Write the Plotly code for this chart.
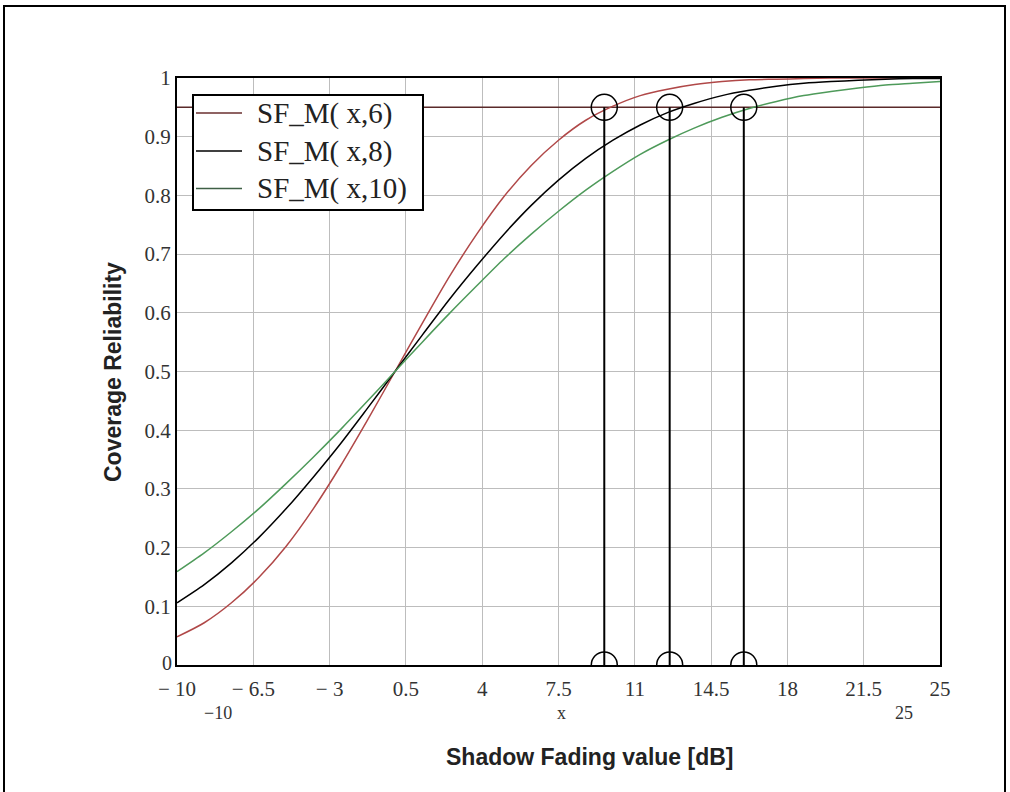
import plotly.graph_objects as go

# x positions (dB)
x_vals = [-10, -8.75, -7.5, -6.25, -5, -3.75, -2.5, -1.25, 0, 1.25, 2.5, 3.75, 5, 6.25, 7.5,
          8.75, 10, 11.25, 12.5, 13.75, 15, 16.25, 17.5, 18.75, 20, 21.25, 22.5, 23.75, 25]
# curve values
sf6 = [0.048, 0.072, 0.106, 0.149, 0.202, 0.266, 0.339, 0.418, 0.500, 0.582, 0.662, 0.734, 0.798,
       0.851, 0.894, 0.928, 0.952, 0.970, 0.981, 0.989, 0.994, 0.997, 0.998, 0.999, 1.000, 1.000,
       1.000, 1.000, 1.000]
sf8 = [0.106, 0.137, 0.174, 0.217, 0.266, 0.320, 0.377, 0.438, 0.500, 0.562, 0.623, 0.680, 0.734,
       0.783, 0.826, 0.863, 0.894, 0.920, 0.941, 0.957, 0.970, 0.979, 0.986, 0.991, 0.994, 0.996,
       0.998, 0.999, 0.999]
sf10 = [0.159, 0.191, 0.227, 0.266, 0.309, 0.354, 0.401, 0.450, 0.500, 0.550, 0.599, 0.646, 0.692,
        0.734, 0.773, 0.809, 0.841, 0.870, 0.894, 0.915, 0.933, 0.948, 0.960, 0.970, 0.977, 0.983,
        0.988, 0.991, 0.994]
series_names = ["SF_M( x,6)", "SF_M( x,8)", "SF_M( x,10)"]

threshold = 0.95
threshold_x = [-10, 25]
marker_x = [9.6, 12.6, 16.0]

x_tickvals = [-10, -6.5, -3, 0.5, 4, 7.5, 11, 14.5, 18, 21.5, 25]
x_ticktext = ["\u2212 10", "\u2212 6.5", "\u2212 3", "0.5", "4", "7.5", "11", "14.5", "18", "21.5", "25"]
y_tickvals = [0.1, 0.2, 0.3, 0.4, 0.5, 0.6, 0.7, 0.8, 0.9, 1]
y_ticktext = ["0.1", "0.2", "0.3", "0.4", "0.5", "0.6", "0.7", "0.8", "0.9", "1"]
y_zero_label = "0"

serif = "Liberation Serif, Times New Roman, serif"
sans = "Liberation Sans, Arial, sans-serif"

fig = go.Figure()

# threshold line (behind)
fig.add_trace(go.Scatter(x=threshold_x, y=[threshold, threshold], mode="lines",
                         line=dict(color="#5a2a2a", width=1.5), showlegend=False, hoverinfo="skip"))

colors = ["#b04848", "#000000", "#4e9a5a"]
legend_line_colors = ["#6a2f2f", "#000000", "#3f5f45"]
for name, ys, c in zip(series_names, [sf6, sf8, sf10], colors):
    fig.add_trace(go.Scatter(x=x_vals, y=ys, mode="lines", name=name, showlegend=False,
                             line=dict(color=c, width=1.5, shape="spline", smoothing=0.8)))

# drop lines and circles
for mx in marker_x:
    fig.add_trace(go.Scatter(x=[mx, mx], y=[0, threshold], mode="lines+markers",
                             line=dict(color="black", width=2),
                             marker=dict(symbol="circle-open", size=26, color="black",
                                         line=dict(width=1.5, color="black")),
                             showlegend=False, hoverinfo="skip"))

W, H = 1010, 792
# plot area in reference pixels
PX0, PX1, PY0, PY1 = 177, 940, 78, 665
L, T = PX0, PY0
R = W - PX1
B = H - PY1
pw = PX1 - PX0
ph = PY1 - PY0


def px(x):
    return (x - PX0) / pw


def py(y):
    return 1 - (y - PY0) / ph


shapes = [
    # outer frame
    dict(type="rect", xref="paper", yref="paper",
         x0=px(4), x1=px(1005), y0=py(805), y1=py(6),
         line=dict(color="black", width=2)),
    # legend box
    dict(type="rect", xref="paper", yref="paper", layer="above",
         x0=px(193), x1=px(423), y0=py(210), y1=py(95),
         fillcolor="white", line=dict(color="black", width=2)),
]
annotations = []
legend_rows = [113, 151, 188.5]
for name, c, ry in zip(series_names, legend_line_colors, legend_rows):
    shapes.append(dict(type="line", xref="paper", yref="paper", layer="above",
                       x0=px(196), x1=px(242), y0=py(ry), y1=py(ry),
                       line=dict(color=c, width=1.5)))
    annotations.append(dict(text=name, xref="paper", yref="paper", x=px(255), y=py(ry),
                            xanchor="left", yanchor="middle", showarrow=False,
                            font=dict(family=serif, size=29, color="#222")))

annotations += [
    dict(text="<b>Shadow Fading value [dB]</b>", xref="paper", yref="paper",
         x=px(590), y=py(757), showarrow=False, xanchor="center", yanchor="middle",
         font=dict(family=sans, size=23, color="#222")),
    dict(text="<b>Coverage Reliability</b>", xref="paper", yref="paper",
         x=px(113), y=py(372), showarrow=False, xanchor="center", yanchor="middle",
         textangle=-90, font=dict(family=sans, size=23, color="#222")),
    dict(text=y_zero_label, xref="paper", yref="paper", x=px(174), y=py(663),
         xanchor="right", yanchor="middle",
         showarrow=False, font=dict(family=serif, size=20, color="#333")),
    dict(text="\u221210", xref="paper", yref="paper", x=px(202), y=py(725),
         showarrow=False, font=dict(family=serif, size=18, color="#333")),
    dict(text="x", xref="paper", yref="paper", x=px(561), y=py(725),
         showarrow=False, font=dict(family=serif, size=18, color="#333")),
    dict(text="25", xref="paper", yref="paper", x=px(915), y=py(725),
         showarrow=False, font=dict(family=serif, size=18, color="#333")),
]

fig.update_layout(
    width=W, height=H,
    margin=dict(l=L, r=R, t=T, b=B, autoexpand=False),
    paper_bgcolor="white", plot_bgcolor="white",
    showlegend=False,
    xaxis=dict(range=[-10, 25], tickmode="array", tickvals=x_tickvals, ticktext=x_ticktext,
               showgrid=True, gridcolor="#bdbdbd", gridwidth=1,
               showline=True, linecolor="black", linewidth=2, mirror=True,
               ticks="", zeroline=False, ticklabelstandoff=4,
               tickfont=dict(family=serif, size=21, color="#333")),
    yaxis=dict(range=[0, 1], tickmode="array", tickvals=y_tickvals, ticktext=y_ticktext,
               showgrid=True, gridcolor="#bdbdbd", gridwidth=1,
               showline=True, linecolor="black", linewidth=2, mirror=True,
               ticks="", zeroline=False,
               tickfont=dict(family=serif, size=21, color="#333")),
    shapes=shapes,
    annotations=annotations,
)

fig.write_html("out.html", config={"displayModeBar": False},
               post_script="document.body.style.margin='0';")
